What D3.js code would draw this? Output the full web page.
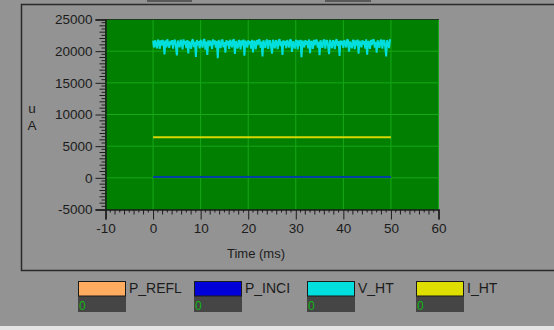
<!DOCTYPE html>
<html>
<head>
<meta charset="utf-8">
<script src="https://cdn.jsdelivr.net/npm/d3@7"></script>
<style>
  html, body { margin: 0; padding: 0; background: #939393; }
  svg { display: block; }
  text { font-family: "Liberation Sans", Arial, sans-serif; fill: #1c1c1c; }
</style>
</head>
<body>
<svg id="chart" width="554" height="330"></svg>
<script>
// ---- data -------------------------------------------------------------
const seriesNames = ["P_REFL", "P_INCI", "V_HT", "I_HT"];
const seriesColors = ["#ffab60", "#0000d8", "#00dede", "#dede00"];
const traceColors = ["#ffab60", "#0040a0", "#00dede", "#d8d800"];
const readouts = ["0", "0", "0", "0"];

const xTicks = [-10, 0, 10, 20, 30, 40, 50, 60];
const yTicks = [-5000, 0, 5000, 10000, 15000, 20000, 25000];
const xLabel = "Time (ms)";
const yUnit = ["u", "A"];

// acquisition window of the traces (ms)
const traceStartMs = 0;
const traceEndMs = 50;
const vhtStepMs = 0.2;

// flat traces: level over the whole window
const pRefl = [150, 150];
const pInci = [150, 150];
const iHt = [6400, 6400];

// V_HT samples, one every 0.2 ms from 0 to 50 ms
const vHt = [
  21650,20580,21720,21100,20450,21800,21540,20360,21690,20900,
  21760,21300,19500,21710,20600,21880,21150,20520,21640,21020,
  21730,20410,21590,21800,20750,19320,21690,21200,20600,21770,
  21420,20280,21850,21050,21620,20490,21740,19650,21560,21180,
  20380,21700,21830,20640,21480,19080,21760,20950,21600,20430,
  21790,21240,20560,21680,21900,20250,21520,19400,21710,20820,
  21650,21330,20340,21860,21040,21700,20570,21580,18900,21750,
  21120,20480,21690,21810,20600,21450,19750,21720,20920,21630,
  20350,21780,21360,20610,21700,21870,19560,21600,21010,20440,
  21740,21560,20270,21690,20880,21820,19290,21660,21230,20560,
  21720,21050,21590,20400,21800,19820,21640,21380,20300,21760,
  20970,21680,21840,20530,21510,19150,21730,21090,20510,21650,
  21790,20360,21570,21700,20680,19600,21810,21160,20450,21740,
  21440,20320,21670,21880,20790,21550,19420,21700,20940,21620,
  20490,21760,21290,20570,21830,21680,19880,21540,21060,20410,
  21750,21600,20290,21700,20850,21790,19050,21650,21270,20580,
  21730,21020,21620,20430,21850,19700,21580,21410,20360,21770,
  20930,21690,21800,20550,21470,19360,21720,21130,20540,21640,
  21810,20390,21560,21720,20710,19520,21780,21170,20470,21700,
  21460,20310,21650,21860,20820,21580,19230,21690,20960,21610,
  20520,21740,21310,20590,21820,21700,19940,21530,21080,20450,
  21760,21620,20330,21710,20870,21830,19610,21640,21250,20600,
  21720,21040,21600,20420,21870,19450,21570,21390,20370,21780,
  20950,21700,21820,20560,21490,19780,21730,21150,20530,21660,
  21800,20400,21580,21740,20700,19170,21760,21190,20480,21720,
  21690
];

// ---- layout -----------------------------------------------------------
const svg = d3.select("#chart");
const plot = { left: 105, right: 438, top: 19, bottom: 210 };

const x = d3.scaleLinear().domain([-10, 60]).range([plot.left + 0.5, plot.right + 0.5]);
const y = d3.scaleLinear().domain([-5000, 25000]).range([plot.bottom - 0.5, plot.top + 0.5]);
const tickText = d => String(d);

// window chrome
svg.append("rect").attr("x", 0).attr("y", 0).attr("width", 554).attr("height", 330).attr("fill", "#939393");
svg.append("rect").attr("x", 147).attr("y", 0).attr("width", 45).attr("height", 2).attr("fill", "#585858");
svg.append("rect").attr("x", 325).attr("y", 0).attr("width", 46).attr("height", 2).attr("fill", "#585858");
svg.append("rect").attr("x", 0).attr("y", 326).attr("width", 554).attr("height", 4).attr("fill", "#e4e4e4");

// panel frame
svg.append("path")
  .attr("d", "M560,4.5 H21.5 V270.5 H560")
  .attr("fill", "none").attr("stroke", "#2a2a2a").attr("stroke-width", 1.5);

// plot background
svg.append("rect")
  .attr("x", plot.left).attr("y", plot.top)
  .attr("width", plot.right - plot.left + 1).attr("height", plot.bottom - plot.top)
  .attr("fill", "#007f00");

// grid
const grid = svg.append("g").attr("stroke", "#18a818").attr("stroke-width", 1);
xTicks.filter(v => v > -10).forEach(v => {
  grid.append("line").attr("x1", x(v)).attr("x2", x(v)).attr("y1", plot.top).attr("y2", plot.bottom);
});
yTicks.filter(v => v > -5000 && v < 25000).forEach(v => {
  grid.append("line").attr("x1", plot.left).attr("x2", plot.right + 1).attr("y1", y(v)).attr("y2", y(v));
});

// top edge of plot
svg.append("line").attr("x1", plot.left).attr("x2", plot.right + 1)
  .attr("y1", plot.top + 0.5).attr("y2", plot.top + 0.5).attr("stroke", "#1e3a1e");

// ---- traces -----------------------------------------------------------
svg.append("clipPath").attr("id", "plotClip").append("rect")
  .attr("x", plot.left).attr("y", plot.top).attr("width", plot.right - plot.left).attr("height", plot.bottom - plot.top);
const traces = svg.append("g").attr("clip-path", "url(#plotClip)");

const traceLine = d3.line().x(d => x(d.t)).y(d => y(d.v));
function flat(levels) {
  return [{ t: traceStartMs, v: levels[0] }, { t: traceEndMs, v: levels[1] }];
}

traces.append("path").datum(vHt.map((v, i) => ({ t: traceStartMs + i * vhtStepMs, v })))
  .attr("d", traceLine).attr("fill", "none").attr("stroke", traceColors[2])
  .attr("stroke-width", 2).attr("stroke-linejoin", "miter").attr("stroke-miterlimit", 1.5);
traces.append("path").datum(flat(iHt)).attr("d", traceLine)
  .attr("fill", "none").attr("stroke", traceColors[3]).attr("stroke-width", 2);
traces.append("path").datum(flat(pRefl)).attr("d", traceLine)
  .attr("fill", "none").attr("stroke", traceColors[0]).attr("stroke-width", 2);
traces.append("path").datum(flat(pInci)).attr("d", traceLine)
  .attr("fill", "none").attr("stroke", traceColors[1]).attr("stroke-width", 2);

// ---- axes -------------------------------------------------------------
const axisColor = "#1c1c1c";

const yAxis = svg.append("g").attr("transform", `translate(${plot.left + 0.5},0)`)
  .call(d3.axisLeft(y).tickValues(yTicks).tickSize(10).tickPadding(3).tickFormat(tickText));
yAxis.select(".domain").attr("stroke", axisColor).attr("stroke-width", 1.5);
yAxis.selectAll(".tick line").attr("stroke", axisColor);
yAxis.selectAll(".tick text").attr("font-size", "13.5px").attr("fill", axisColor)
  .attr("font-family", "Liberation Sans, Arial, sans-serif");

const yMinor = d3.range(-5000, 25001, 500).filter(v => v % 5000 !== 0);
yAxis.selectAll(".minor").data(yMinor).enter().append("line")
  .attr("x1", 0).attr("x2", v => (v % 1000 === 0 ? -6 : -4))
  .attr("y1", v => y(v)).attr("y2", v => y(v)).attr("stroke", axisColor);

const xAxis = svg.append("g").attr("transform", `translate(0,${plot.bottom - 0.5})`)
  .call(d3.axisBottom(x).tickValues(xTicks).tickSize(10).tickPadding(4).tickFormat(tickText));
xAxis.select(".domain").attr("stroke", axisColor).attr("stroke-width", 1.5);
xAxis.selectAll(".tick line").attr("stroke", axisColor);
xAxis.selectAll(".tick text").attr("font-size", "13.5px").attr("fill", axisColor)
  .attr("font-family", "Liberation Sans, Arial, sans-serif");

const xMinor = d3.range(-10, 61, 1).filter(v => v % 10 !== 0);
xAxis.selectAll(".minor").data(xMinor).enter().append("line")
  .attr("y1", 0).attr("y2", v => (v % 2 === 0 ? 5 : 3))
  .attr("x1", v => x(v)).attr("x2", v => x(v)).attr("stroke", axisColor);

svg.append("text").attr("x", 256).attr("y", 258).attr("text-anchor", "middle")
  .attr("font-size", "13px").text(xLabel);
svg.append("text").attr("x", 32).attr("y", 113).attr("text-anchor", "middle")
  .attr("font-size", "13.5px").text(yUnit[0]);
svg.append("text").attr("x", 32).attr("y", 130).attr("text-anchor", "middle")
  .attr("font-size", "13.5px").text(yUnit[1]);

// ---- legend -----------------------------------------------------------
const legendX = [78, 194, 307, 416];
const legend = svg.append("g");
seriesNames.forEach((name, i) => {
  const g = legend.append("g").attr("transform", `translate(${legendX[i]},281)`);
  g.append("rect").attr("x", 0).attr("y", 15).attr("width", 48).attr("height", 16).attr("fill", "#454545");
  g.append("rect").attr("x", 0.5).attr("y", 0.5).attr("width", 47).attr("height", 14.5)
    .attr("fill", seriesColors[i]).attr("stroke", "#1a1a1a").attr("stroke-width", 1);
  g.append("text").attr("x", 51).attr("y", 12).attr("font-size", "14px").text(name);
  g.append("text").attr("x", 1).attr("y", 28.5).attr("font-size", "12px")
    .style("fill", "#12b812").text(readouts[i]);
});
</script>
</body>
</html>
